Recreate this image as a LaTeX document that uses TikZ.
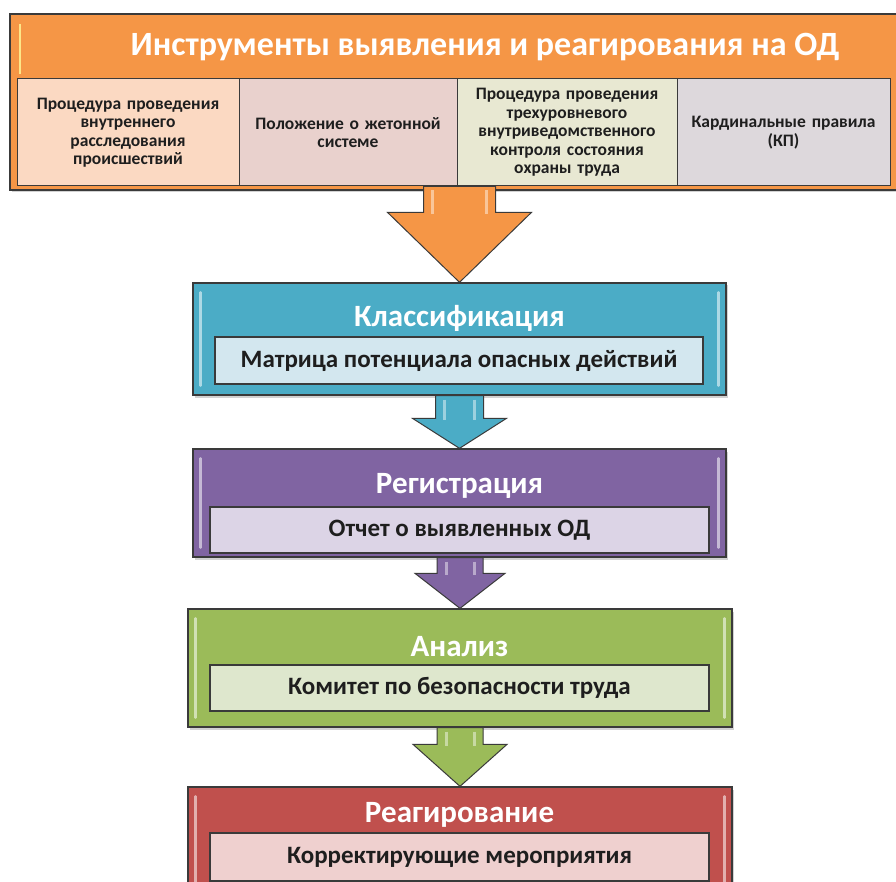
\documentclass[tikz,border=0pt]{standalone}
\usepackage{fontspec}
\setmainfont{Carlito}
\usetikzlibrary{calc,shadows}
\definecolor{bd}{HTML}{3A3A3A}
\definecolor{orA}{HTML}{F59646}
\definecolor{cyA}{HTML}{4BACC6}
\definecolor{puA}{HTML}{8064A2}
\definecolor{grA}{HTML}{9BBB59}
\definecolor{reA}{HTML}{C0504D}
\definecolor{cyI}{HTML}{D3E7EF}
\definecolor{puI}{HTML}{DCD4E6}
\definecolor{grI}{HTML}{DEE7CD}
\definecolor{reI}{HTML}{EFD0CF}
\definecolor{cA}{HTML}{FBD9C2}
\definecolor{cB}{HTML}{E9D1CD}
\definecolor{cC}{HTML}{E8E8D2}
\definecolor{cD}{HTML}{DDD8DC}
\definecolor{txt}{HTML}{1E1E1E}
\newcommand\blockarrow[6]{%
  \draw[arrowbox, fill=#3] let \p1=(#1.south), \p2=(#2.north) in
    (\x2-#4pt,\y1) -- (\x2-#4pt,\y2+#6pt) -- (\x2-#5pt,\y2+#6pt) -- (\x2,\y2)
    -- (\x2+#5pt,\y2+#6pt) -- (\x2+#4pt,\y2+#6pt) -- (\x2+#4pt,\y1) -- cycle;
  \draw[white, opacity=0.45, line width=3pt] let \p1=(#1.south), \p2=(#2.north) in
    (\x2-#4pt+9pt,\y1-4pt) -- (\x2-#4pt+9pt,\y2+#6pt-2pt)
    (\x2+#4pt-9pt,\y1-4pt) -- (\x2+#4pt-9pt,\y2+#6pt-2pt);
}
\newcommand\glints[1]{%
  \draw[white, opacity=0.55, line width=2.5pt, line cap=round]
    ($(#1.north west)+(8,10)$) -- ($(#1.south west)+(8,-10)$)
    ($(#1.north east)+(-8,10)$) -- ($(#1.south east)+(-8,-10)$);
}
\begin{document}
\begin{tikzpicture}[x=1pt,y=-1pt,
  outerbox/.style={draw=bd, line width=1.3pt, inner sep=0pt,
    drop shadow={opacity=0.35, shadow xshift=2pt, shadow yshift=-2.5pt}},
  innerbox/.style={draw=bd, line width=1.2pt, inner sep=0pt, text=txt,
    font=\fontsize{25}{30}\selectfont\bfseries},
  cellbox/.style={draw=bd, line width=1pt, inner sep=2pt, text=txt, align=center,
    font=\fontsize{17.5}{18.5}\selectfont\bfseries},
  boxtitle/.style={text=white, font=\fontsize{31}{36}\selectfont\bfseries, inner sep=0pt},
  arrowbox/.style={draw=bd, line width=1pt, line join=miter}]
\useasboundingbox (0,0) rectangle (896,882);
\clip (0,0) rectangle (896,882);
\fill[white] (0,0) rectangle (896,882);

% top block
\node[outerbox, fill=orA, minimum width=900, minimum height=176] (tools) at (460,102) {};
\node[text=white, font=\fontsize{34}{40}\selectfont\bfseries, inner sep=0pt] (ttl) at (485,47)
  {Инструменты выявления и реагирования на ОД};
\node[cellbox, fill=cA, minimum width=222, minimum height=107, text width=214] (c1) at (128,132.5)
  {Процедура проведения\\внутреннего\\расследования\\происшествий};
\node[cellbox, fill=cB, minimum width=218, minimum height=107, text width=210] (c2) at (348,132.5)
  {Положение о жетонной\\системе};
\node[cellbox, fill=cC, minimum width=220, minimum height=107, text width=212] (c3) at (567,132.5)
  {Процедура проведения\\трехуровневого\\внутриведомственного\\контроля состояния\\охраны труда};
\node[cellbox, fill=cD, minimum width=213, minimum height=107, text width=205] (c4) at (783.5,132.5)
  {Кардинальные правила\\(КП)};
\draw[yellow!40!white, opacity=0.8, line width=2.5pt] (20,24) -- (20,74);

% stages
\node[outerbox, fill=cyA, minimum width=533, minimum height=112] (cls) at (459.5,339) {};
\node[boxtitle] (clsT) at (459.5,318) {Классификация};
\node[innerbox, fill=cyI, minimum width=488, minimum height=47] (clsI) at (459,360.5)
  {Матрица потенциала опасных действий};

\node[outerbox, fill=puA, minimum width=533, minimum height=108] (reg) at (459.5,503) {};
\node[boxtitle] (regT) at (459.5,486) {Регистрация};
\node[innerbox, fill=puI, minimum width=499, minimum height=46] (regI) at (459.5,530)
  {Отчет о выявленных ОД};

\node[outerbox, fill=grA, minimum width=544, minimum height=118] (ana) at (460,668) {};
\node[boxtitle] (anaT) at (459.5,647) {Анализ};
\node[innerbox, fill=grI, minimum width=499, minimum height=46] (anaI) at (459.5,688)
  {Комитет по безопасности труда};

\node[outerbox, fill=reA, minimum width=544, minimum height=110] (rea) at (460,842) {};
\node[boxtitle] (reaT) at (459.5,815) {Реагирование};
\node[innerbox, fill=reI, minimum width=499, minimum height=48] (reaI) at (459.5,857)
  {Корректирующие мероприятия};

\glints{cls}
\glints{reg}
\glints{ana}
\glints{rea}

% block arrows
\blockarrow{c2}{cls}{orA}{36}{72}{70}
\blockarrow{cls}{reg}{cyA}{24}{47}{30}
\blockarrow{reg}{ana}{puA}{23}{45}{35}
\blockarrow{ana}{rea}{grA}{23}{47}{42}
\end{tikzpicture}
\end{document}
